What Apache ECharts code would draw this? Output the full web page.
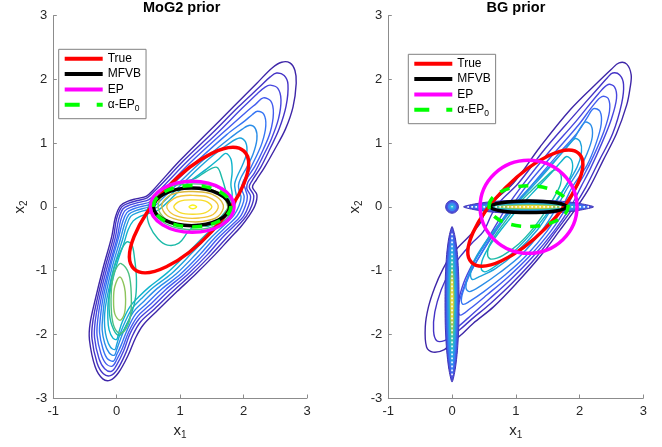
<!DOCTYPE html>
<html><head><meta charset="utf-8">
<script src="https://cdn.jsdelivr.net/npm/echarts@6/dist/echarts.min.js"></script>
<style>html,body{margin:0;padding:0;background:#fff}#chart{width:662px;height:447px}</style>
</head><body><div id="chart"></div>
<script>
// ================= DATA =================
const panelTitles = ['MoG2 prior', 'BG prior'];
const methodNames = ['True', 'MFVB', 'EP', 'α-EP0'];
const xRange = [-1, 3];
const yRange = [-3, 3];

// Approximation ellipses: [centreX, centreY, semiAxisA, semiAxisB, angleDeg]
const mogTrue  = [[1.14, -0.05, 1.27, 0.49, 47]];
const mogMFVB  = [[1.18, 0.00, 0.60, 0.295, 0]];
const mogEP    = [[1.19, 0.00, 0.66, 0.40, 0]];
const mogAlpha = [[1.19, 0.01, 0.61, 0.325, 0]];
const bgTrue   = [[1.15, -0.02, 1.20, 0.447, 45.4]];
const bgMFVB   = [[1.20, 0.00, 0.60, 0.09, 0]];
const bgEP     = [[1.20, 0.00, 0.76, 0.73, 0]];
const bgAlpha  = [[1.20, 0.01, 0.62, 0.32, 0]];

// ---- MoG2 prior: posterior contour lines (outer -> inner) ----
const mogC1 = [[2.60,2.27],[2.73,2.26],[2.81,2.14],[2.83,1.94],[2.78,1.57],[2.66,1.22],[2.49,0.90],[2.33,0.62],[2.20,0.42],[2.14,0.31],[2.21,0.19],[2.18,0.02],[2.08,-0.15],[1.95,-0.32],[1.78,-0.50],[1.55,-0.75],[1.25,-1.05],[0.95,-1.33],[0.65,-1.62],[0.42,-1.85],[0.30,-2.05],[0.18,-2.33],[0.03,-2.60],[-0.10,-2.72],[-0.22,-2.70],[-0.34,-2.51],[-0.43,-2.09],[-0.42,-1.83],[-0.34,-1.46],[-0.21,-0.94],[-0.08,-0.47],[-0.02,-0.16],[0.06,0.02],[0.18,0.09],[0.32,0.13],[0.47,0.17],[0.58,0.27],[0.68,0.38],[1.00,0.73],[1.42,1.15],[1.84,1.57],[2.21,1.94],[2.45,2.18]];
const mogC2 = [[2.52,2.10],[2.64,2.06],[2.70,1.92],[2.67,1.58],[2.56,1.22],[2.42,0.92],[2.27,0.62],[2.14,0.42],[2.09,0.31],[2.16,0.18],[2.13,0.02],[2.04,-0.15],[1.90,-0.31],[1.72,-0.50],[1.49,-0.75],[1.19,-1.05],[0.89,-1.32],[0.60,-1.60],[0.38,-1.80],[0.25,-2.02],[0.14,-2.30],[0.01,-2.55],[-0.10,-2.65],[-0.21,-2.62],[-0.31,-2.45],[-0.39,-2.07],[-0.38,-1.82],[-0.31,-1.46],[-0.18,-0.94],[-0.05,-0.47],[0.00,-0.18],[0.08,0.00],[0.19,0.06],[0.33,0.10],[0.48,0.14],[0.61,0.26],[0.72,0.37],[1.06,0.73],[1.50,1.15],[1.92,1.57],[2.25,1.88],[2.42,2.04]];
const mogC3 = [[2.42,1.91],[2.54,1.86],[2.59,1.68],[2.55,1.38],[2.44,1.07],[2.30,0.78],[2.17,0.53],[2.07,0.39],[2.05,0.29],[2.11,0.17],[2.08,0.02],[2.00,-0.15],[1.85,-0.30],[1.66,-0.49],[1.43,-0.75],[1.13,-1.05],[0.83,-1.31],[0.55,-1.58],[0.35,-1.76],[0.21,-1.99],[0.11,-2.26],[0.00,-2.48],[-0.08,-2.58],[-0.19,-2.54],[-0.28,-2.38],[-0.35,-2.05],[-0.34,-1.80],[-0.28,-1.46],[-0.15,-0.94],[-0.02,-0.47],[0.03,-0.20],[0.10,-0.03],[0.21,0.03],[0.35,0.07],[0.50,0.11],[0.65,0.24],[0.77,0.36],[1.13,0.73],[1.58,1.15],[1.98,1.55],[2.22,1.78],[2.34,1.88]];
const mogC4 = [[2.31,1.71],[2.43,1.66],[2.47,1.47],[2.42,1.17],[2.31,0.90],[2.18,0.64],[2.06,0.46],[2.01,0.36],[2.03,0.27],[2.06,0.16],[2.03,0.02],[1.95,-0.15],[1.80,-0.30],[1.60,-0.49],[1.37,-0.75],[1.07,-1.05],[0.77,-1.30],[0.51,-1.55],[0.33,-1.72],[0.19,-1.96],[0.09,-2.22],[0.00,-2.40],[-0.07,-2.50],[-0.17,-2.46],[-0.25,-2.30],[-0.31,-2.02],[-0.30,-1.78],[-0.25,-1.46],[-0.12,-0.94],[0.01,-0.47],[0.06,-0.22],[0.13,-0.06],[0.24,0.00],[0.38,0.04],[0.53,0.08],[0.68,0.21],[0.82,0.35],[1.20,0.73],[1.66,1.15],[2.02,1.47],[2.20,1.62]];
const mogC5 = [[2.22,1.50],[2.32,1.45],[2.35,1.27],[2.29,1.00],[2.18,0.75],[2.07,0.53],[1.99,0.39],[1.97,0.28],[2.01,0.16],[1.98,0.02],[1.90,-0.14],[1.75,-0.29],[1.55,-0.48],[1.31,-0.75],[1.01,-1.05],[0.71,-1.29],[0.47,-1.52],[0.30,-1.68],[0.17,-1.92],[0.07,-2.17],[0.00,-2.32],[-0.05,-2.42],[-0.15,-2.38],[-0.22,-2.22],[-0.27,-1.98],[-0.26,-1.76],[-0.22,-1.46],[-0.10,-0.94],[0.03,-0.48],[0.09,-0.25],[0.16,-0.09],[0.27,-0.03],[0.41,0.01],[0.56,0.05],[0.71,0.19],[0.87,0.34],[1.28,0.73],[1.73,1.13],[2.02,1.35],[2.14,1.45]];
const mogC6 = [[2.10,1.28],[2.19,1.22],[2.21,1.06],[2.15,0.83],[2.05,0.62],[1.96,0.46],[1.92,0.34],[1.93,0.25],[1.96,0.15],[1.93,0.02],[1.85,-0.13],[1.70,-0.28],[1.50,-0.47],[1.25,-0.74],[0.94,-1.05],[0.64,-1.28],[0.43,-1.48],[0.27,-1.64],[0.14,-1.88],[0.05,-2.10],[0.00,-2.24],[-0.04,-2.33],[-0.12,-2.29],[-0.19,-2.14],[-0.23,-1.93],[-0.22,-1.72],[-0.19,-1.46],[-0.07,-0.94],[0.06,-0.50],[0.12,-0.28],[0.19,-0.12],[0.30,-0.06],[0.44,-0.02],[0.60,0.02],[0.75,0.16],[0.93,0.33],[1.36,0.73],[1.80,1.09],[1.98,1.22]];
const mogC7 = [[1.94,1.08],[2.03,1.02],[2.05,0.85],[1.98,0.65],[1.90,0.48],[1.86,0.36],[1.87,0.26],[1.89,0.14],[1.86,0.02],[1.79,-0.12],[1.64,-0.27],[1.44,-0.46],[1.18,-0.73],[0.86,-1.05],[0.57,-1.27],[0.39,-1.44],[0.24,-1.60],[0.12,-1.83],[0.04,-2.03],[0.00,-2.16],[-0.03,-2.24],[-0.10,-2.20],[-0.16,-2.06],[-0.19,-1.88],[-0.19,-1.68],[-0.16,-1.46],[-0.04,-0.94],[0.09,-0.52],[0.15,-0.31],[0.22,-0.15],[0.33,-0.09],[0.47,-0.05],[0.63,-0.01],[0.80,0.14],[1.00,0.33],[1.45,0.75],[1.78,1.00]];
const mogC8 = [[1.72,0.84],[1.80,0.75],[1.82,0.55],[1.80,0.35],[1.82,0.20],[1.80,0.03],[1.73,-0.11],[1.59,-0.26],[1.39,-0.45],[1.12,-0.72],[0.79,-1.04],[0.51,-1.26],[0.34,-1.42],[0.20,-1.58],[0.09,-1.80],[0.03,-1.98],[0.00,-2.08],[-0.06,-2.06],[-0.12,-1.93],[-0.14,-1.75],[-0.13,-1.46],[-0.01,-0.94],[0.12,-0.55],[0.18,-0.36],[0.26,-0.22],[0.37,-0.15],[0.51,-0.10],[0.66,-0.05],[0.85,0.12],[1.08,0.34],[1.45,0.62],[1.62,0.76]];
const mogC9a = [[1.58,0.62],[1.66,0.45],[1.72,0.25],[1.78,0.05],[1.65,-0.15],[1.45,-0.30],[1.26,-0.28],[1.12,-0.40],[0.98,-0.57],[0.80,-0.60],[0.65,-0.50],[0.52,-0.30],[0.48,-0.10],[0.55,0.12],[0.75,0.30],[1.00,0.38],[1.25,0.45],[1.40,0.55]];
const mogC9b = [[0.03,-2.02],[0.13,-1.90],[0.24,-1.65],[0.30,-1.40],[0.31,-1.10],[0.28,-0.80],[0.24,-0.60],[0.16,-0.55],[0.06,-0.70],[-0.04,-0.95],[-0.11,-1.30],[-0.12,-1.60],[-0.08,-1.85]];
const mogC10a = [[0.07,-0.89],[0.19,-1.05],[0.23,-1.40],[0.21,-1.75],[0.12,-1.95],[0.03,-1.98],[-0.06,-1.82],[-0.09,-1.45],[-0.06,-1.10],[0.00,-0.95]];
const mogC10b = [[1.20,0.36],[1.60,0.30],[1.80,0.10],[1.78,-0.12],[1.55,-0.30],[1.20,-0.36],[0.85,-0.30],[0.60,-0.12],[0.60,0.10],[0.80,0.30]];
const mogC11a = [[0.05,-1.10],[0.12,-1.25],[0.14,-1.45],[0.12,-1.68],[0.05,-1.78],[-0.03,-1.68],[-0.05,-1.45],[-0.03,-1.25]];
const mogC11b = [[1.20,0.29],[1.55,0.25],[1.74,0.05],[1.70,-0.15],[1.45,-0.28],[1.15,-0.29],[0.85,-0.24],[0.66,-0.05],[0.70,0.15],[0.90,0.26]];
const mogC12 = [[1.20,0.24],[1.50,0.20],[1.68,0.03],[1.60,-0.15],[1.35,-0.23],[1.05,-0.22],[0.80,-0.14],[0.71,0.02],[0.82,0.17],[1.00,0.23]];
const mogC13 = [[1.20,0.18],[1.45,0.15],[1.60,0.02],[1.52,-0.12],[1.30,-0.175],[1.05,-0.17],[0.86,-0.10],[0.79,0.02],[0.90,0.13],[1.02,0.17]];
const mogC14 = [[1.20,0.11],[1.40,0.09],[1.50,0.00],[1.40,-0.09],[1.20,-0.115],[1.00,-0.09],[0.90,0.00],[1.00,0.09]];
const mogC15 = [[1.20,0.03],[1.26,0.00],[1.20,-0.03],[1.14,0.00]];

// ---- BG prior: posterior contour lines (outer -> inner) ----
const bgC1 = [[2.62,2.26],[2.74,2.24],[2.81,2.07],[2.79,1.85],[2.74,1.60],[2.58,1.15],[2.37,0.73],[2.16,0.31],[1.96,0.00],[1.69,-0.37],[1.38,-0.78],[1.01,-1.20],[0.65,-1.57],[0.33,-1.83],[0.13,-2.02],[0.00,-2.12],[-0.12,-2.24],[-0.30,-2.28],[-0.40,-2.20],[-0.42,-1.88],[-0.37,-1.57],[-0.27,-1.26],[-0.14,-0.97],[-0.02,-0.77],[0.10,-0.63],[0.26,-0.47],[0.44,-0.26],[0.56,0.00],[0.96,0.37],[1.38,0.94],[1.85,1.52],[2.27,1.94],[2.50,2.16]];
const bgC2 = [[2.52,2.10],[2.63,2.07],[2.69,1.92],[2.66,1.62],[2.52,1.15],[2.31,0.73],[2.10,0.31],[1.91,0.00],[1.64,-0.37],[1.33,-0.78],[0.96,-1.18],[0.60,-1.52],[0.30,-1.77],[0.12,-1.93],[0.00,-2.02],[-0.12,-2.10],[-0.24,-2.10],[-0.29,-1.95],[-0.27,-1.65],[-0.17,-1.30],[-0.04,-1.03],[0.12,-0.79],[0.31,-0.57],[0.49,-0.39],[0.63,-0.10],[0.75,0.08],[1.04,0.37],[1.45,0.90],[1.90,1.42],[2.28,1.85],[2.44,2.03]];
const bgC3 = [[2.45,1.92],[2.55,1.88],[2.58,1.70],[2.50,1.38],[2.35,1.00],[2.17,0.60],[2.03,0.33],[1.86,0.00],[1.60,-0.38],[1.27,-0.78],[0.92,-1.14],[0.58,-1.45],[0.30,-1.70],[0.12,-1.86],[0.05,-1.90],[0.03,-1.80],[0.08,-1.55],[0.18,-1.20],[0.32,-0.90],[0.50,-0.60],[0.68,-0.30],[0.86,0.00],[1.12,0.36],[1.52,0.86],[1.95,1.35],[2.30,1.78]];
const bgC4 = [[2.35,1.73],[2.45,1.70],[2.47,1.50],[2.38,1.18],[2.22,0.80],[2.07,0.50],[1.95,0.30],[1.80,0.00],[1.55,-0.38],[1.21,-0.78],[0.88,-1.10],[0.55,-1.38],[0.28,-1.60],[0.13,-1.70],[0.09,-1.62],[0.14,-1.40],[0.24,-1.12],[0.39,-0.85],[0.56,-0.56],[0.75,-0.26],[0.95,0.03],[1.20,0.37],[1.60,0.84],[1.98,1.28],[2.22,1.60]];
const bgC5 = [[2.22,1.54],[2.32,1.50],[2.34,1.30],[2.26,1.00],[2.12,0.66],[1.88,0.30],[1.73,0.00],[1.49,-0.38],[1.15,-0.78],[0.83,-1.07],[0.50,-1.33],[0.28,-1.48],[0.17,-1.53],[0.15,-1.42],[0.22,-1.20],[0.33,-0.95],[0.48,-0.70],[0.64,-0.45],[0.83,-0.18],[1.04,0.08],[1.30,0.40],[1.66,0.82],[1.98,1.18],[2.12,1.40]];
const bgC6 = [[2.09,1.33],[2.18,1.28],[2.20,1.10],[2.12,0.84],[1.98,0.56],[1.80,0.28],[1.66,0.02],[1.42,-0.36],[1.08,-0.76],[0.75,-1.03],[0.45,-1.24],[0.28,-1.33],[0.22,-1.28],[0.24,-1.12],[0.33,-0.90],[0.47,-0.66],[0.63,-0.42],[0.82,-0.16],[1.05,0.12],[1.35,0.44],[1.68,0.80],[1.92,1.08],[2.00,1.22]];
const bgC7 = [[1.93,1.07],[2.01,1.02],[2.03,0.86],[1.96,0.62],[1.72,0.22],[1.58,0.00],[1.34,-0.36],[1.00,-0.72],[0.68,-0.97],[0.42,-1.10],[0.32,-1.14],[0.29,-1.05],[0.33,-0.88],[0.44,-0.68],[0.60,-0.45],[0.80,-0.20],[1.03,0.07],[1.32,0.38],[1.60,0.70],[1.80,0.94]];
const bgC8 = [[1.80,0.79],[1.88,0.72],[1.88,0.55],[1.78,0.32],[1.62,0.08],[1.48,-0.12],[1.24,-0.42],[0.95,-0.72],[0.68,-0.93],[0.52,-1.02],[0.46,-0.98],[0.47,-0.85],[0.56,-0.66],[0.70,-0.45],[0.88,-0.22],[1.08,0.02],[1.34,0.30],[1.58,0.56],[1.72,0.72]];
const bgC9 = [[1.64,0.58],[1.71,0.50],[1.70,0.35],[1.60,0.15],[1.46,-0.08],[1.28,-0.33],[1.05,-0.58],[0.80,-0.76],[0.62,-0.82],[0.56,-0.77],[0.58,-0.62],[0.68,-0.44],[0.84,-0.22],[1.02,0.02],[1.24,0.25],[1.45,0.45],[1.57,0.56]];

// BG prior: spike along x2 = 0 (outer -> inner bands)
const bgH1 = [[0.18,0],[0.35,0.045],[0.60,0.08],[0.90,0.10],[1.20,0.105],[1.50,0.10],[1.80,0.08],[2.02,0.05],[2.22,0],[2.02,-0.05],[1.80,-0.08],[1.50,-0.10],[1.20,-0.105],[0.90,-0.10],[0.60,-0.08],[0.35,-0.045]];
const bgH2 = [[0.28,0],[0.45,0.035],[0.70,0.062],[1.00,0.077],[1.25,0.08],[1.55,0.075],[1.85,0.058],[2.14,0],[1.85,-0.058],[1.55,-0.075],[1.25,-0.08],[1.00,-0.077],[0.70,-0.062],[0.45,-0.035]];
const bgH3 = [[0.42,0],[0.60,0.03],[0.85,0.052],[1.20,0.06],[1.55,0.055],[1.80,0.04],[2.02,0],[1.80,-0.04],[1.55,-0.055],[1.20,-0.06],[0.85,-0.052],[0.60,-0.03]];
const bgH4 = [[0.58,0],[0.75,0.025],[1.00,0.038],[1.25,0.042],[1.55,0.037],[1.88,0],[1.55,-0.037],[1.25,-0.042],[1.00,-0.038],[0.75,-0.025]];
const bgH5 = [[0.72,0],[0.90,0.02],[1.20,0.028],[1.50,0.022],[1.74,0],[1.50,-0.022],[1.20,-0.028],[0.90,-0.02]];
const bgH6 = [[0.88,0],[1.05,0.012],[1.25,0.016],[1.45,0.012],[1.58,0],[1.45,-0.012],[1.25,-0.016],[1.05,-0.012]];
// BG prior: spike along x1 = 0
const bgV1 = [[0,-0.31],[0.05,-0.48],[0.085,-0.75],[0.105,-1.10],[0.11,-1.50],[0.105,-1.90],[0.085,-2.25],[0.05,-2.55],[0,-2.75],[-0.05,-2.55],[-0.085,-2.25],[-0.105,-1.90],[-0.11,-1.50],[-0.105,-1.10],[-0.085,-0.75],[-0.05,-0.48]];
const bgV2 = [[0,-0.42],[0.045,-0.62],[0.075,-0.95],[0.085,-1.45],[0.078,-1.95],[0.055,-2.35],[0,-2.63],[-0.055,-2.35],[-0.078,-1.95],[-0.085,-1.45],[-0.075,-0.95],[-0.045,-0.62]];
const bgV3 = [[0,-0.56],[0.04,-0.85],[0.06,-1.20],[0.062,-1.50],[0.055,-1.95],[0.035,-2.25],[0,-2.48],[-0.035,-2.25],[-0.055,-1.95],[-0.062,-1.50],[-0.06,-1.20],[-0.04,-0.85]];
const bgV4 = [[0,-0.75],[0.03,-1.05],[0.042,-1.45],[0.036,-1.90],[0,-2.25],[-0.036,-1.90],[-0.042,-1.45],[-0.03,-1.05]];
const bgV5 = [[0,-0.98],[0.022,-1.20],[0.027,-1.48],[0.02,-1.75],[0,-2.00],[-0.02,-1.75],[-0.027,-1.48],[-0.022,-1.20]];
const bgV6 = [[0,-1.15],[0.012,-1.35],[0.014,-1.48],[0.011,-1.62],[0,-1.78],[-0.011,-1.62],[-0.014,-1.48],[-0.012,-1.35]];
// BG prior: point-mass blob at the origin [cx, cy, rx, ry, angle]
const bgBlob = [[0,0,0.10,0.10,0],[0,0,0.068,0.068,0],[0,0,0.038,0.038,0],[0,0,0.012,0.012,0]];
// dotted centre lines of the spikes
const bgHCentre = [[0.24,0],[2.15,0]];
const bgVCentre = [[0,-0.42],[0,-2.66]];

// ================= STYLE =================
const FONT = '"Liberation Sans", Arial, Helvetica, sans-serif';
const mogCurves = [mogC1,mogC2,mogC3,mogC4,mogC5,mogC6,mogC7,mogC8,mogC9a,mogC9b,mogC10a,mogC10b,mogC11a,mogC11b,mogC12,mogC13,mogC14,mogC15];
const mogColors = ['#3e26a8','#4433c6','#4746de','#435cee','#3575f4','#2a8de8','#1da3dc','#0fb4cc','#1cbaa8','#1cbaa8','#4cc083','#4cc083','#8ec45b','#8ec45b','#dcb83c','#f2c53a','#f7dc2b','#f9f21c'];
const bgCurves = [bgC1,bgC2,bgC3,bgC4,bgC5,bgC6,bgC7,bgC8,bgC9];
const bgColors = ['#3e26a8','#4433c6','#4746de','#435cee','#3575f4','#2a8de8','#1da3dc','#0fb4cc','#1cbaa8'];
const spikeShapes = [bgH1,bgH2,bgH3,bgH4,bgH5,bgH6,bgV1,bgV2,bgV3,bgV4,bgV5,bgV6];
const spikeFills  = ['#4a52de','#3d80f2','#26aede','#4ac39c','#c4c444','#f8e02a','#4a52de','#3d80f2','#26aede','#4ac39c','#c4c444','#f8e02a'];
const spikeStroke = ['#3f33b8','#3b62ea','#2a95e6','#2bb8c0','#9cc450','#f3d83a','#3f33b8','#3b62ea','#2a95e6','#2bb8c0','#9cc450','#f3d83a'];
const blobFills = ['#4a52de','#3b86f0','#2ab8dc','#ffffff'];

function curveSeries(gi, curves, colors, width, z) {
  return {
    type: 'custom', coordinateSystem: 'cartesian2d', xAxisIndex: gi, yAxisIndex: gi,
    silent: true, z: z,
    data: curves.map((c, i) => [c[0][0], c[0][1], i]),
    encode: { x: 0, y: 1 },
    renderItem: (params, api) => {
      const i = api.value(2);
      return { type: 'polygon', shape: { points: curves[i].map(p => api.coord(p)), smooth: 0.35 },
        style: { fill: 'none', stroke: colors[i], lineWidth: width } };
    }
  };
}
function filledSeries(gi, shapes, fills, strokes, z) {
  return {
    type: 'custom', coordinateSystem: 'cartesian2d', xAxisIndex: gi, yAxisIndex: gi,
    silent: true, z: z,
    data: shapes.map((c, i) => [c[0][0], c[0][1], i]),
    encode: { x: 0, y: 1 },
    renderItem: (params, api) => {
      const i = api.value(2);
      return { type: 'polygon', shape: { points: shapes[i].map(p => api.coord(p)), smooth: 0.25 },
        style: { fill: fills[i], stroke: strokes[i], lineWidth: 1 } };
    }
  };
}
function ellipseSeries(gi, name, params, color, dash, z, fills) {
  return {
    type: 'custom', name: name, coordinateSystem: 'cartesian2d', xAxisIndex: gi, yAxisIndex: gi,
    silent: true, z: z, itemStyle: { color: color || '#000' },
    data: params, encode: { x: 0, y: 1 },
    renderItem: (p, api) => {
      const c = api.coord([api.value(0), api.value(1)]);
      const s = api.size([1, 1]);
      const style = fills
        ? { fill: fills[p.dataIndex], stroke: p.dataIndex === 0 ? '#3f33b8' : null, lineWidth: 1 }
        : { fill: 'none', stroke: color, lineWidth: 3.5, lineDash: dash || null };
      return { type: 'ellipse', x: c[0], y: c[1], rotation: api.value(4) * Math.PI / 180,
        shape: { cx: 0, cy: 0, rx: api.value(2) * s[0], ry: api.value(3) * s[1] }, style: style };
    }
  };
}
function lineSeries(gi, pts, z) {
  return { type: 'line', xAxisIndex: gi, yAxisIndex: gi, data: pts, symbol: 'none', silent: true, z: z,
    lineStyle: { color: '#ffffff', width: 1.6, type: [1.6, 2.4] } };
}

const axisCommon = {
  type: 'value', splitLine: { show: false },
  axisLine: { show: true, onZero: false, lineStyle: { color: '#8c8c8c', width: 1 } },
  axisTick: { show: true, inside: true, length: 3.5, lineStyle: { color: '#8c8c8c' } },
  axisLabel: { color: '#262626', fontSize: 13, fontFamily: FONT },
  nameLocation: 'middle',
  nameTextStyle: { color: '#262626', fontFamily: FONT, fontSize: 15,
    rich: { s: { fontSize: 10, fontFamily: FONT, color: '#262626', padding: [9, 0, 0, 0] } } }
};
const grids = [
  { left: 53.3, top: 15.7, width: 253.7, height: 382.3, outerBoundsMode: 'none' },
  { left: 388.3, top: 15.7, width: 255, height: 382.3, outerBoundsMode: 'none' }
];
const legendIcons = ['rect', 'rect', 'rect', 'path://M0,0H15V4H0Z M32,0H38V4H32Z'];
function legendFor(left, top) {
  return {
    orient: 'vertical', left: left, top: top, padding: [3, 5, 6, 6], itemGap: 2.3,
    itemWidth: 38, itemHeight: 4, backgroundColor: '#ffffff', borderColor: '#808080', borderWidth: 1,
    borderRadius: 0, selectedMode: false,
    data: methodNames.map((n, i) => ({ name: n, icon: legendIcons[i] })),
    formatter: n => n === 'α-EP0' ? 'α-EP{s|0}' : n,
    textStyle: { fontSize: 12, color: '#000', fontFamily: FONT, lineHeight: 13,
      rich: { s: { fontSize: 8.5, fontFamily: FONT, color: '#000', padding: [7, 0, 0, 0] } } }
  };
}

const option = {
  animation: false,
  backgroundColor: '#ffffff',
  title: [
    { text: panelTitles[0], left: 143, top: 0, padding: 0, textStyle: { fontSize: 14.5, fontWeight: 'bold', color: '#000', fontFamily: FONT } },
    { text: panelTitles[1], left: 486.5, top: 0, padding: 0, textStyle: { fontSize: 14.5, fontWeight: 'bold', color: '#000', fontFamily: FONT } }
  ],
  grid: grids,
  xAxis: [0, 1].map(i => Object.assign({}, axisCommon, { gridIndex: i, min: xRange[0], max: xRange[1], interval: 1,
    name: 'x{s|1}', nameGap: 22, axisLabel: Object.assign({}, axisCommon.axisLabel, { margin: 7 }) })),
  yAxis: [0, 1].map(i => Object.assign({}, axisCommon, { gridIndex: i, min: yRange[0], max: yRange[1], interval: 1,
    name: 'x{s|2}', nameGap: 24, axisLabel: Object.assign({}, axisCommon.axisLabel, { margin: 6 }) })),
  legend: [legendFor(58.7, 49.3), legendFor(408.3, 54.3)],
  series: [
    curveSeries(0, mogCurves, mogColors, 1.4, 2),
    ellipseSeries(0, methodNames[0], mogTrue, '#ff0000', null, 10),
    ellipseSeries(0, methodNames[1], mogMFVB, '#000000', null, 11),
    ellipseSeries(0, methodNames[2], mogEP, '#ff00ff', null, 12),
    ellipseSeries(0, methodNames[3], mogAlpha, '#00ff00', [10, 9], 13),

    curveSeries(1, bgCurves, bgColors, 1.4, 2),
    filledSeries(1, spikeShapes, spikeFills, spikeStroke, 3),
    ellipseSeries(1, null, bgBlob, '#4a52de', null, 3, blobFills),
    lineSeries(1, bgHCentre, 4),
    lineSeries(1, bgVCentre, 4),
    ellipseSeries(1, methodNames[0], bgTrue, '#ff0000', null, 10),
    ellipseSeries(1, methodNames[1], bgMFVB, '#000000', null, 11),
    ellipseSeries(1, methodNames[2], bgEP, '#ff00ff', null, 12),
    ellipseSeries(1, methodNames[3], bgAlpha, '#00ff00', [10, 9], 13)
  ]
};
const chart = echarts.init(document.getElementById('chart'), null, { renderer: 'canvas' });
chart.setOption(option);
</script></body></html>
